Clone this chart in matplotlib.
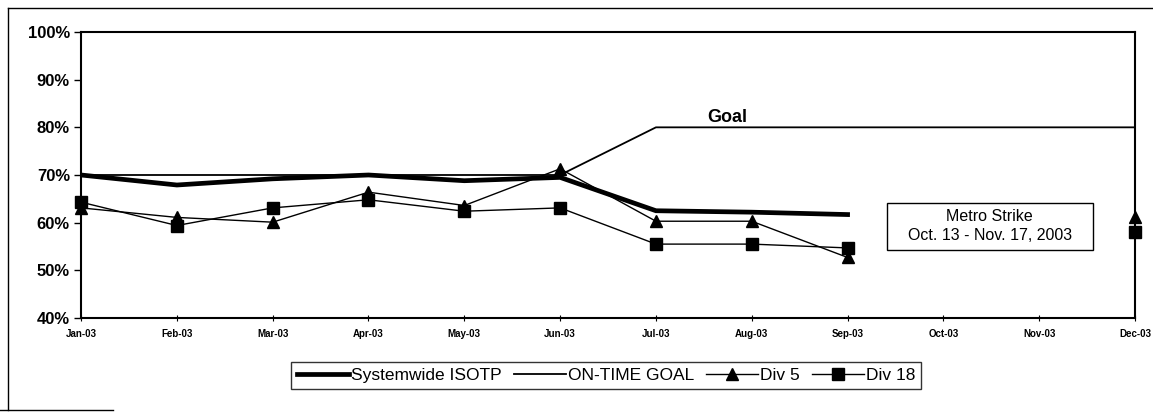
import numpy as np
import matplotlib
matplotlib.use("Agg")
import matplotlib.pyplot as plt
from matplotlib.patches import Rectangle
from matplotlib.lines import Line2D

plt.rcParams["font.family"] = ["Liberation Sans", "DejaVu Sans"]

months = ["Jan-03", "Feb-03", "Mar-03", "Apr-03", "May-03", "Jun-03",
          "Jul-03", "Aug-03", "Sep-03", "Oct-03", "Nov-03", "Dec-03"]
nan = np.nan
systemwide = [70.0, 67.9, 69.2, 70.0, 68.8, 69.5, 62.5, 62.2, 61.7, nan, nan, nan]
on_time_goal = [70, 70, 70, 70, 70, 70, 80, 80, 80, 80, 80, 80]
div5 = [63.1, 61.1, 60.1, 66.4, 63.6, 71.3, 60.3, 60.3, 52.7, nan, nan, 61.1]
div18 = [64.3, 59.4, 63.1, 64.8, 62.4, 63.1, 55.5, 55.5, 54.7, nan, nan, 58.0]
y_ticks = [40, 50, 60, 70, 80, 90, 100]

x = np.arange(len(months))

fig = plt.figure(figsize=(11.53, 4.12), dpi=100)
ax = fig.add_axes([0.0703, 0.2282, 0.9141, 0.6941])

ax.plot(x, systemwide, color="black", linewidth=3.4, solid_joinstyle="miter",
        label="Systemwide ISOTP", zorder=3)
ax.plot(x, on_time_goal, color="black", linewidth=1.3, label="ON-TIME GOAL", zorder=2)
ax.plot(x, div5, color="black", linewidth=1.0, marker="^", markersize=8.5,
        label="Div 5", zorder=4, clip_on=False)
ax.plot(x, div18, color="black", linewidth=1.0, marker="s", markersize=8,
        label="Div 18", zorder=4, clip_on=False)

ax.set_xlim(0, len(months) - 1)
ax.set_ylim(40, 100)
ax.set_xticks(x)
ax.set_xticklabels(months, fontsize=7, fontweight="bold")
ax.set_yticks(y_ticks)
ax.set_yticklabels([f"{v}%" for v in y_ticks], fontsize=12, fontweight="bold")
ax.tick_params(axis="y", direction="out", length=5, width=1, pad=3)
ax.tick_params(axis="x", direction="inout", length=4, width=0.8, pad=6)
for spine in ax.spines.values():
    spine.set_linewidth(1.5)

# goal label sits on the 80% segment
ax.text(6.74, 80.2, "Goal", fontsize=13, fontweight="bold",
        ha="center", va="bottom")

# strike note box
ax.add_patch(Rectangle((8.41, 54.3), 2.15, 9.9, facecolor="white",
                       edgecolor="black", linewidth=1.0, zorder=5))
ax.text(9.485, 59.25, "Metro Strike\nOct. 13 - Nov. 17, 2003", fontsize=11.5,
        ha="center", va="center", linespacing=1.3, zorder=6)

leg = fig.legend(loc="center", bbox_to_anchor=(0.5256, 0.0886), ncol=4,
                 fontsize=12.5, frameon=True, fancybox=False, handlelength=3.0,
                 handletextpad=0.1, columnspacing=0.7, borderpad=0.35,
                 borderaxespad=0)
leg.get_frame().set_edgecolor("black")
leg.get_frame().set_linewidth(1.0)

# page frame around the chart
fig.add_artist(Line2D([8 / 1153, 8 / 1153], [1 - 8 / 412, 1 - 410 / 412],
                      transform=fig.transFigure, color="black", linewidth=1.0))
fig.add_artist(Line2D([8 / 1153, 1.0], [1 - 8 / 412, 1 - 8 / 412],
                      transform=fig.transFigure, color="black", linewidth=1.0))
fig.add_artist(Line2D([0.0, 113 / 1153], [1 - 410 / 412, 1 - 410 / 412],
                      transform=fig.transFigure, color="black", linewidth=1.0))

fig.savefig("out.png", dpi=100, facecolor="white")
plt.close(fig)
